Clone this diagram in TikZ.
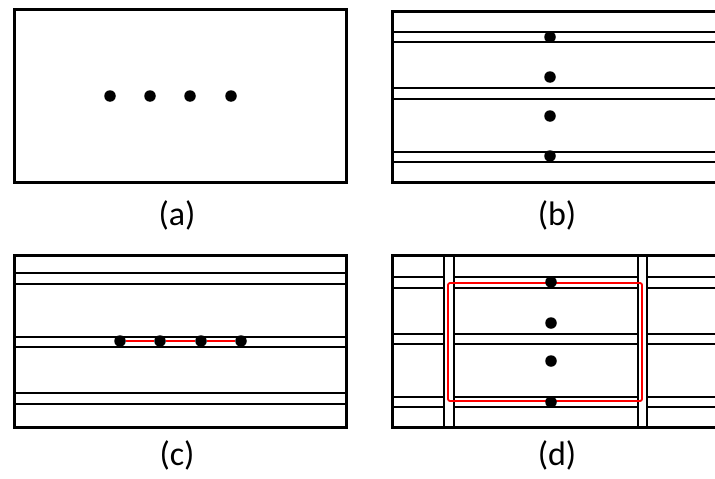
\documentclass[tikz,border=0pt]{standalone}
\usepackage{fontspec}
\setmainfont{Carlito}
\usetikzlibrary{positioning}
\tikzset{
  frame/.style={draw=black, line width=3pt},
  road/.style={draw=black, line width=1.6pt},
  dot/.style={circle, fill=black, minimum size=11.5pt, inner sep=0pt},
  link/.style={draw=red, line width=1.5pt},
  zone/.style={draw=red, line width=1.8pt, rounded corners=2pt},
  caption/.style={font=\fontsize{34}{40}\selectfont, inner sep=0pt}
}

\begin{document}
\begin{tikzpicture}[x=1pt, y=-1pt]
\useasboundingbox (0,0) rectangle (715,479);

% (a) points only
\draw[frame] (14,9) rectangle (346,182);
\node[dot] (a1) at (110,96) {};
\node[dot] (a2) at (150,96) {};
\node[dot] (a3) at (190,96) {};
\node[dot] (a4) at (231,96) {};
\node[caption] (capa) at (177,215) {(a)};

% (b) horizontal roads
\draw[frame] (715,11) -- (392,11) -- (392,182) -- (715,182);
\foreach \y in {32,42,88,99,152,162}
  \draw[road] (392,\y) -- (715,\y);
\node[dot] (b1) at (550,37) {};
\node[dot] (b2) at (550,77) {};
\node[dot] (b3) at (550,116) {};
\node[dot] (b4) at (550,156) {};
\node[caption] (capb) at (557,215) {(b)};

% (c) points on one road
\draw[frame] (14,255) rectangle (346,427);
\foreach \y in {273,284,393,404}
  \draw[road] (14,\y) -- (346,\y);
\foreach \y in {337,347}
  \draw[road] (14,\y) -- (348,\y);
\node[dot] (c1) at (120,341) {};
\node[dot] (c2) at (160,341) {};
\node[dot] (c3) at (201,341) {};
\node[dot] (c4) at (241,341) {};
\draw[link] (c1) -- (c2) -- (c3) -- (c4);
\node[caption] (capc) at (177,455) {(c)};

% (d) grid of roads
\draw[frame] (715,255) -- (392,255) -- (392,427) -- (715,427);
\foreach \x in {444,454,638,647}
  \draw[road] (\x,255) -- (\x,427);
\foreach \y in {277,288,334,344,397,407} {
  \draw[road] (392,\y) -- (444,\y);
  \draw[road] (454,\y) -- (638,\y);
  \draw[road] (647,\y) -- (715,\y);
}
\draw[zone] (448,283) rectangle (642,401);
\node[dot] (d1) at (551,282) {};
\node[dot] (d2) at (551,323) {};
\node[dot] (d3) at (551,361) {};
\node[dot] (d4) at (551,402) {};
\node[caption] (capd) at (557,455) {(d)};
\end{tikzpicture}
\end{document}
